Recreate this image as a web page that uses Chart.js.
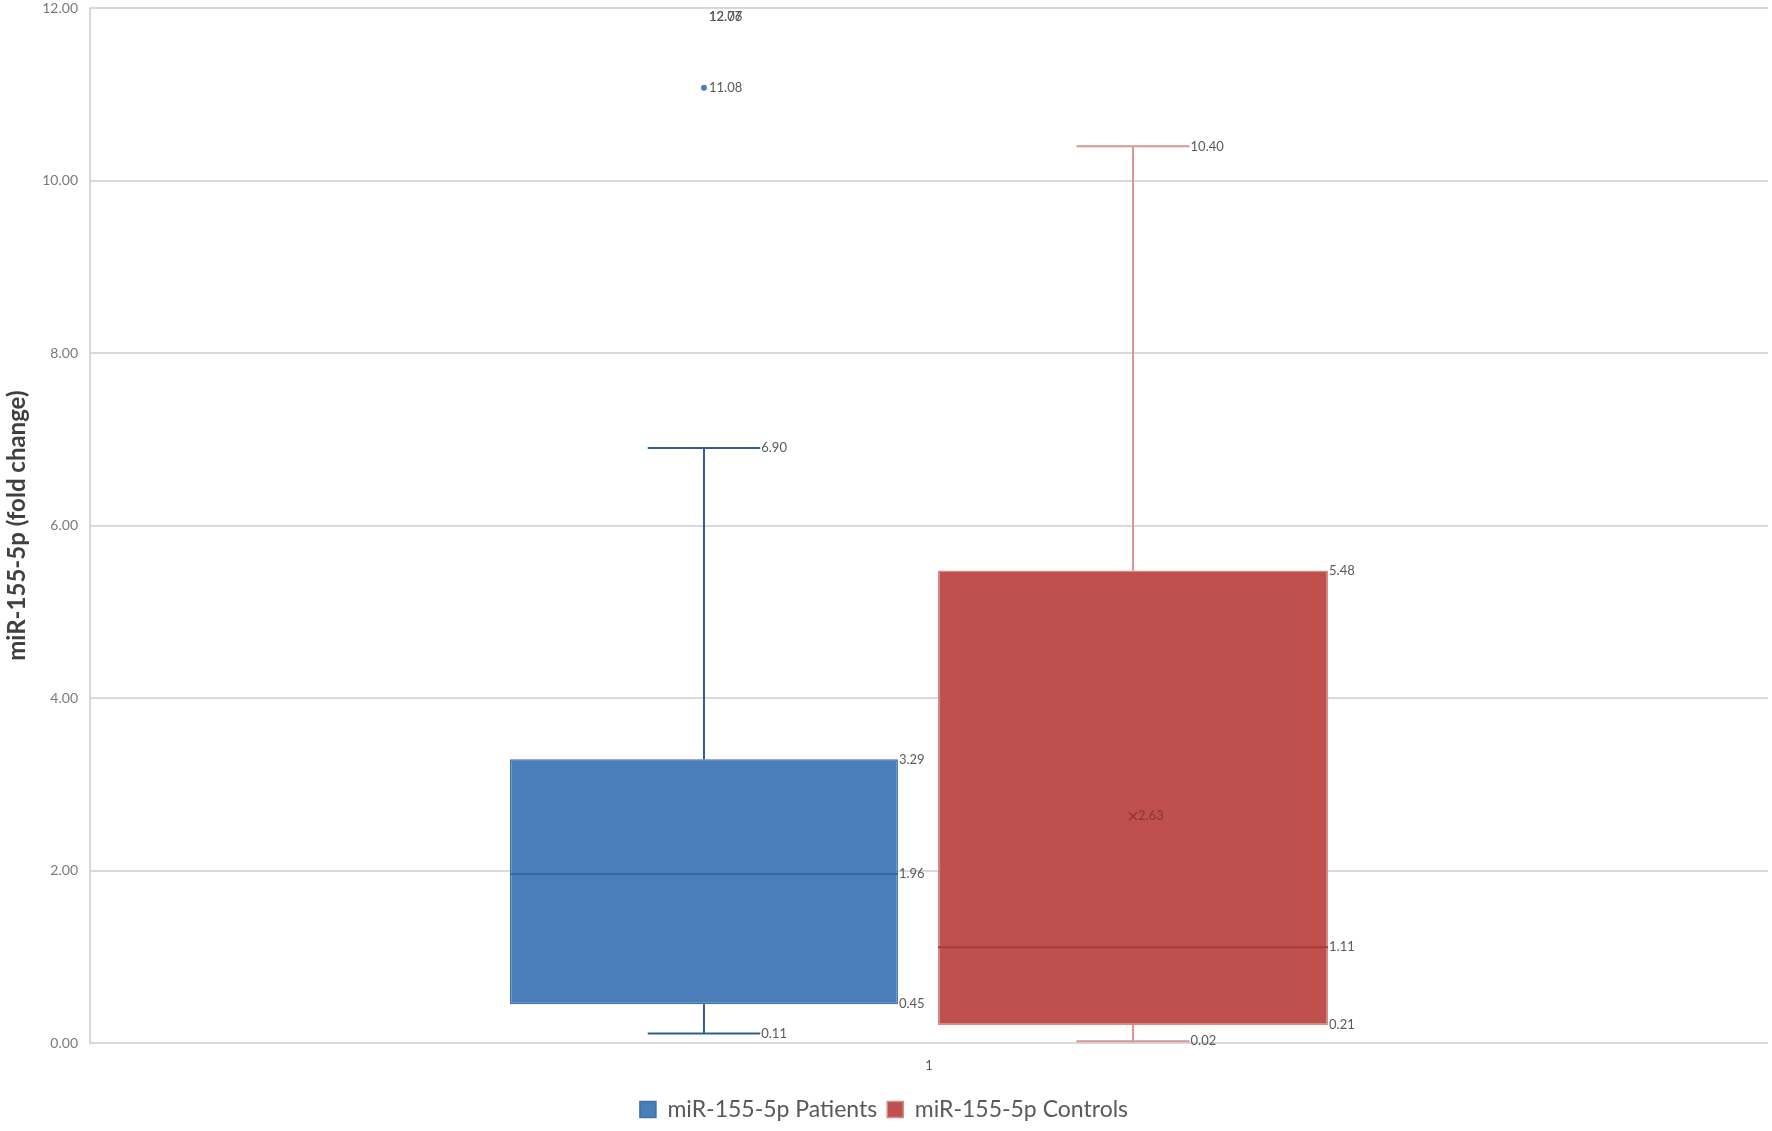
<!DOCTYPE html>
<html>
<head>
<meta charset="utf-8">
<script src="https://cdn.jsdelivr.net/npm/chart.js@4.4.1/dist/chart.umd.min.js"></script>
<style>
  html, body { margin: 0; padding: 0; background: #ffffff; }
  #wrap { width: 1772px; height: 1131px; }
</style>
</head>
<body>
<div id="wrap"><canvas id="boxChart" width="1772" height="1131"></canvas></div>
<script>
// values
var categories = ['1'];
var seriesNames = ['miR-155-5p Patients', 'miR-155-5p Controls'];
var whiskerLow = [0.11, 0.02];
var quartile1 = [0.45, 0.21];
var medians = [1.96, 1.11];
var quartile3 = [3.29, 5.48];
var whiskerHigh = [6.90, 10.40];
var means = [null, 2.63];
var outliers = [[11.08, 12.07, 12.76], []];
var yTicks = [0, 2, 4, 6, 8, 10, 12];

// look of each box (kept apart from the values)
var boxStyles = [
  { fill: '#4a7ebb', border: '#3f6fae', whisker: '#2f5d9a', median: '#3a66a0',
    catPct: 0.5364, barPct: 0.862 },
  { fill: '#c0504d', border: '#d48b89', whisker: '#d99694', median: '#a23d3a',
    catPct: 0.4863, barPct: 0.956 }
];
var labelColor = '#595959';
var labelFont = '13px Lato';

function fmt(v) { return v.toFixed(2); }

// whiskers, medians, mean mark, outliers and the value labels
var boxExtras = {
  id: 'boxExtras',
  afterDatasetsDraw: function(chart) {
    var ctx = chart.ctx;
    var yScale = chart.scales.y;
    var area = chart.chartArea;
    ctx.save();
    ctx.font = labelFont;
    ctx.textBaseline = 'middle';
    ctx.textAlign = 'left';

    for (var i = 0; i < seriesNames.length; i++) {
      var bar = chart.getDatasetMeta(i).data[0];
      var st = boxStyles[i];
      var cx = bar.x;
      var half = bar.width / 2;
      var capHalf = bar.width * 0.145;
      var yLo = yScale.getPixelForValue(whiskerLow[i]);
      var yQ1 = yScale.getPixelForValue(quartile1[i]);
      var yMed = yScale.getPixelForValue(medians[i]);
      var yQ3 = yScale.getPixelForValue(quartile3[i]);
      var yHi = yScale.getPixelForValue(whiskerHigh[i]);

      // whiskers and caps
      ctx.strokeStyle = st.whisker;
      ctx.lineWidth = 2;
      ctx.beginPath();
      ctx.moveTo(cx, yQ3); ctx.lineTo(cx, yHi);
      ctx.moveTo(cx - capHalf, yHi); ctx.lineTo(cx + capHalf, yHi);
      ctx.moveTo(cx, yQ1); ctx.lineTo(cx, yLo);
      ctx.moveTo(cx - capHalf, yLo); ctx.lineTo(cx + capHalf, yLo);
      ctx.stroke();

      // median
      ctx.strokeStyle = st.median;
      ctx.beginPath();
      ctx.moveTo(cx - half, yMed); ctx.lineTo(cx + half, yMed);
      ctx.stroke();

      // labels
      ctx.fillStyle = labelColor;
      ctx.fillText(fmt(whiskerHigh[i]), cx + capHalf + 1, yHi);
      ctx.fillText(fmt(whiskerLow[i]), cx + capHalf + 1, yLo);
      ctx.fillText(fmt(quartile3[i]), cx + half + 1, yQ3);
      ctx.fillText(fmt(medians[i]), cx + half + 1, yMed);
      ctx.fillText(fmt(quartile1[i]), cx + half + 1, yQ1);

      // mean
      if (means[i] !== null) {
        var yMean = yScale.getPixelForValue(means[i]);
        ctx.strokeStyle = '#8a3634';
        ctx.lineWidth = 1.2;
        ctx.beginPath();
        ctx.moveTo(cx - 4, yMean - 4); ctx.lineTo(cx + 4, yMean + 4);
        ctx.moveTo(cx + 4, yMean - 4); ctx.lineTo(cx - 4, yMean + 4);
        ctx.stroke();
        ctx.fillStyle = '#8a3634';
        ctx.fillText(fmt(means[i]), cx + 5, yMean);
      }

      // outliers
      outliers[i].forEach(function(v) {
        var py = yScale.getPixelForValue(v);
        if (py >= area.top) {
          ctx.fillStyle = st.fill;
          ctx.beginPath();
          ctx.arc(cx, py, 3, 0, Math.PI * 2);
          ctx.fill();
        }
        ctx.fillStyle = labelColor;
        ctx.fillText(fmt(v), cx + 5, Math.max(py, area.top + 8));
      });
    }
    ctx.restore();
  }
};

var datasets = seriesNames.map(function(name, i) {
  return {
    label: name,
    data: [[quartile1[i], quartile3[i]]],
    backgroundColor: boxStyles[i].fill,
    borderColor: boxStyles[i].border,
    borderWidth: 1.5,
    borderSkipped: false,
    categoryPercentage: boxStyles[i].catPct,
    barPercentage: boxStyles[i].barPct
  };
});

var ctx = document.getElementById('boxChart');
var boxChart = new Chart(ctx, {
  type: 'bar',
  data: { labels: categories, datasets: datasets },
  options: {
    responsive: false,
    animation: false,
    devicePixelRatio: 1,
    layout: { padding: { top: 0, right: 4, bottom: 0, left: 0 } },
    plugins: {
      tooltip: { enabled: false },
      legend: {
        position: 'bottom',
        labels: {
          boxWidth: 16,
          boxHeight: 16,
          padding: 10,
          color: labelColor,
          font: { family: 'Lato', size: 23 }
        }
      }
    },
    scales: {
      x: {
        grid: { display: false },
        border: { display: false },
        ticks: { color: labelColor, font: { family: 'Lato', size: 13 }, padding: 7 },
        afterFit: function(scale) { scale.height = 45; }
      },
      y: {
        min: yTicks[0],
        max: yTicks[yTicks.length - 1],
        afterBuildTicks: function(scale) {
          scale.ticks = yTicks.map(function(v) { return { value: v }; });
        },
        grid: { color: '#d9d9d9', lineWidth: 2, drawTicks: true, tickLength: 12, tickColor: 'rgba(0,0,0,0)' },
        border: { display: true, color: '#d9d9d9', width: 2 },
        ticks: {
          color: '#7a7a7a',
          font: { family: 'Lato', size: 14 },
          padding: 0,
          callback: function(v) { return Number(v).toFixed(2); }
        },
        title: {
          display: true,
          text: 'miR-155-5p (fold change)',
          color: '#404040',
          font: { family: 'Lato', size: 24, weight: 'bold' },
          padding: { top: 3, bottom: 0 }
        },
        afterFit: function(scale) { scale.width = 90; }
      }
    }
  },
  plugins: [boxExtras]
});
</script>
</body>
</html>
